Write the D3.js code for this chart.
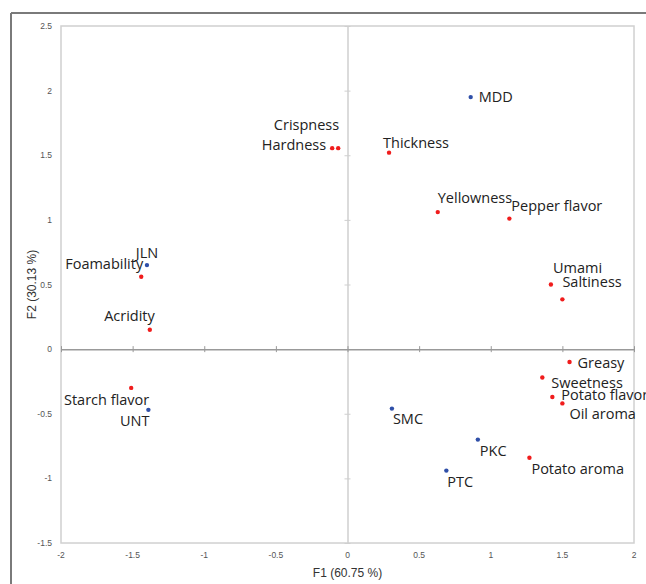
<!DOCTYPE html>
<html lang="en">
<head>
<meta charset="UTF-8">
<title>PCA biplot F1 / F2</title>
<script src="https://d3js.org/d3.v7.min.js"></script>
<style>
  body { margin: 0; background: #fff; }
  svg text { font-family: "Open Sans", "Noto Sans", sans-serif; }
</style>
</head>
<body>
<div id="chart"></div>
<script>
// Data
const names = ["MDD", "Crispness", "Hardness", "Thickness", "Yellowness", "Pepper flavor",
  "Umami", "Saltiness", "JLN", "Foamability", "Acridity", "Greasy", "Sweetness",
  "Potato flavor", "Oil aroma", "Starch flavor", "UNT", "SMC", "PKC", "PTC", "Potato aroma"];
const f1 = [0.86, -0.065, -0.107, 0.29, 0.63, 1.13, 1.42, 1.50, -1.40, -1.44, -1.38, 1.55, 1.36,
  1.43, 1.50, -1.51, -1.39, 0.31, 0.91, 0.69, 1.27];
const f2 = [1.95, 1.555, 1.555, 1.52, 1.06, 1.01, 0.50, 0.385, 0.65, 0.56, 0.15, -0.10, -0.22,
  -0.37, -0.42, -0.30, -0.47, -0.46, -0.70, -0.94, -0.84];
// "obs" = products (blue), "var" = attributes (red)
const kind = ["obs", "var", "var", "var", "var", "var", "var", "var", "obs", "var", "var", "var", "var",
  "var", "var", "var", "obs", "obs", "obs", "obs", "var"];
const xTicks = [-2, -1.5, -1, -0.5, 0, 0.5, 1, 1.5, 2];
const yTicks = [-1.5, -1, -0.5, 0, 0.5, 1, 1.5, 2, 2.5];

// label placement relative to the point: [dx, dy (baseline), anchor]
const labelPos = {
  "MDD": [8, 5, "start"], "Crispness": [1, -18, "end"], "Hardness": [-6, 2, "end"],
  "Thickness": [-6, -5, "start"], "Yellowness": [0, -9, "start"], "Pepper flavor": [2, -8, "start"],
  "Umami": [2, -12, "start"], "Saltiness": [0, -12, "start"], "JLN": [0, -7, "middle"],
  "Foamability": [2, -8, "end"], "Acridity": [5, -9, "end"], "Greasy": [8, 6, "start"],
  "Sweetness": [9, 10, "start"], "Potato flavor": [9, 3, "start"], "Oil aroma": [7, 16, "start"],
  "Starch flavor": [18, 17, "end"], "UNT": [1, 16, "end"], "SMC": [1, 15, "start"],
  "PKC": [2, 16, "start"], "PTC": [1, 16, "start"], "Potato aroma": [2, 16, "start"]
};

const W = 646, H = 584;
const margin = { left: 61, right: 12, top: 26, bottom: 41 };

const svg = d3.select("#chart").append("svg")
  .attr("width", W).attr("height", H);

// outer frame (top + left edges visible)
svg.append("line").attr("x1", 11).attr("x2", W).attr("y1", 13).attr("y2", 13)
  .attr("stroke", "#7a7a7a").attr("stroke-width", 2);
svg.append("line").attr("x1", 11).attr("x2", 11).attr("y1", 13).attr("y2", H)
  .attr("stroke", "#7a7a7a").attr("stroke-width", 2);

const x = d3.scaleLinear().domain([-2, 2]).range([margin.left, W - margin.right]);
const y = d3.scaleLinear().domain([-1.5, 2.5]).range([H - margin.bottom, margin.top]);

// plot area border
svg.append("rect")
  .attr("x", x(-2)).attr("y", y(2.5))
  .attr("width", x(2) - x(-2)).attr("height", y(-1.5) - y(2.5))
  .attr("fill", "none").attr("stroke", "#d0d0d0").attr("stroke-width", 1.5);

// zero axes with small ticks
const yAxis = svg.append("g").attr("transform", `translate(${x(0)},0)`)
  .call(d3.axisLeft(y).tickValues(yTicks).tickSizeInner(-6).tickSizeOuter(0).tickFormat(""));
yAxis.select(".domain").attr("stroke", "#cfcfcf").attr("stroke-width", 1.5);
yAxis.selectAll(".tick line").attr("stroke", "#cfcfcf").attr("transform", "translate(-3,0)");

const xAxis = svg.append("g").attr("transform", `translate(0,${y(0)})`)
  .call(d3.axisBottom(x).tickValues(xTicks).tickSizeInner(-6).tickSizeOuter(0).tickFormat(""));
xAxis.select(".domain").attr("stroke", "#999").attr("stroke-width", 1.5);
xAxis.selectAll(".tick line").attr("stroke", "#999").attr("transform", "translate(0,3)");

// tick labels at the plot edges
const tickFont = "'Liberation Sans Narrow', 'Liberation Sans', sans-serif";
svg.append("g").selectAll("text").data(yTicks).join("text")
  .attr("x", 52).attr("y", d => y(d) + 3)
  .attr("text-anchor", "end").attr("font-size", 8.5).attr("fill", "#555")
  .style("font-family", tickFont)
  .text(d => d);
svg.append("g").selectAll("text").data(xTicks).join("text")
  .attr("x", d => x(d)).attr("y", 558)
  .attr("text-anchor", "middle").attr("font-size", 8.5).attr("fill", "#555")
  .style("font-family", tickFont)
  .text(d => d);

// axis titles
svg.append("text").attr("x", x(0)).attr("y", 577)
  .attr("text-anchor", "middle").attr("font-size", 12).attr("fill", "#333")
  .style("font-family", "'Liberation Sans Narrow', 'Liberation Sans', sans-serif")
  .text("F1 (60.75 %)");
svg.append("text")
  .attr("transform", `translate(36,${y(0.5)}) rotate(-90)`)
  .attr("text-anchor", "middle").attr("font-size", 12).attr("fill", "#333")
  .style("font-family", "'Liberation Sans Narrow', 'Liberation Sans', sans-serif")
  .text("F2 (30.13 %)");

// points + labels
const pts = names.map((n, i) => ({ name: n, f1: f1[i], f2: f2[i], kind: kind[i] }));

svg.append("g").selectAll("circle").data(pts).join("circle")
  .attr("cx", d => x(d.f1)).attr("cy", d => y(d.f2)).attr("r", 2.2)
  .attr("fill", d => d.kind === "obs" ? "#2f4fa8" : "#f01c1c");

svg.append("g").selectAll("text").data(pts).join("text")
  .attr("x", d => x(d.f1) + labelPos[d.name][0])
  .attr("y", d => y(d.f2) + labelPos[d.name][1])
  .attr("text-anchor", d => labelPos[d.name][2])
  .attr("font-size", 14.5).attr("fill", "#222")
  .text(d => d.name);
</script>
</body>
</html>
